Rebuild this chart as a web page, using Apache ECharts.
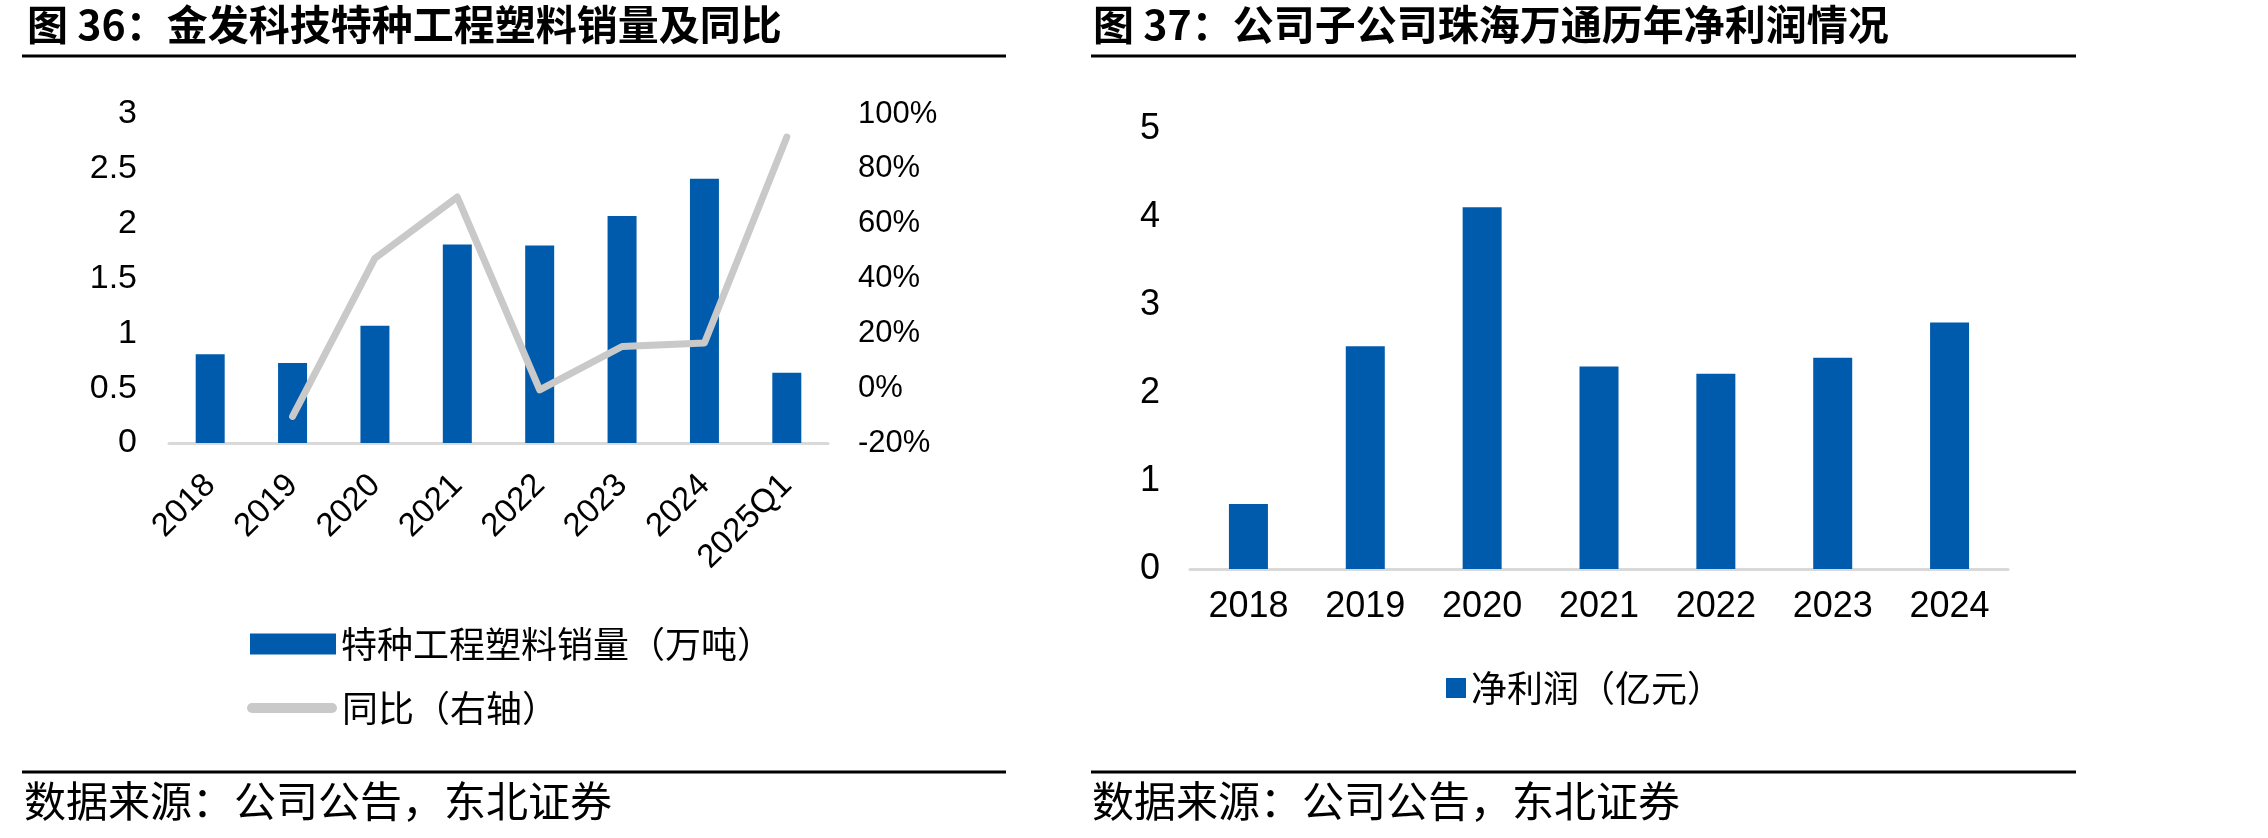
<!DOCTYPE html>
<html>
<head>
<meta charset="utf-8">
<script src="https://cdn.jsdelivr.net/npm/echarts@6/dist/echarts.min.js"></script>
<style>
  html, body { margin: 0; padding: 0; background: #fff; }
  /* 图表容器：和截图窗口同样大小 */
  #chart { width: 2268px; height: 838px; }
</style>
</head>
<body>
<div id="chart"></div>
<script>
// 图36 数据：特种工程塑料销量（万吨）及同比（%）
const salesYears = ['2018', '2019', '2020', '2021', '2022', '2023', '2024', '2025Q1']
const salesVolume = [0.81, 0.73, 1.07, 1.81, 1.80, 2.07, 2.41, 0.64]
const salesYoy = [null, -10.3, 47.4, 69.7, -0.6, 15.2, 16.5, 91.6]

// 图37 数据：珠海万通净利润（亿元）
const profitYears = ['2018', '2019', '2020', '2021', '2022', '2023', '2024']
const netProfit = [0.74, 2.53, 4.11, 2.30, 2.22, 2.40, 2.80]

const BLUE = '#005BAC'
const GREY = '#C9C9C9'
const NUM_FONT = 'Liberation Sans, Arial, sans-serif'
const CJK_FONT = 'Noto Sans CJK SC, sans-serif'

const chartDom = document.getElementById('chart')
const chartInstance = echarts.init(chartDom, null, { renderer: 'canvas' })

// 标题、来源、图例文字的公共样式
const titleStyle = { fontSize: 41, fontWeight: 'bold', fontFamily: CJK_FONT, color: '#000' }
const sourceStyle = { fontSize: 42, fontWeight: 'normal', fontFamily: CJK_FONT, color: '#000' }
const legendText = { fontSize: 36, lineHeight: 36, fontFamily: CJK_FONT, color: '#000' }

const option = {
  backgroundColor: '#fff',
  animation: false,
  title: [
    { text: '图 36：金发科技特种工程塑料销量及同比', left: 27, top: 4, padding: 0, textStyle: titleStyle },
    { text: '图 37：公司子公司珠海万通历年净利润情况', left: 1093, top: 4, padding: 0, textStyle: titleStyle },
    { text: '数据来源：公司公告，东北证券', left: 24, top: 780, padding: 0, textStyle: sourceStyle },
    { text: '数据来源：公司公告，东北证券', left: 1092, top: 780, padding: 0, textStyle: sourceStyle }
  ],
  // 标题下划线和来源上方的横线
  graphic: [
    { type: 'line', shape: { x1: 22, y1: 56, x2: 1006, y2: 56 }, style: { stroke: '#000', lineWidth: 3 } },
    { type: 'line', shape: { x1: 1091, y1: 56, x2: 2076, y2: 56 }, style: { stroke: '#000', lineWidth: 3 } },
    { type: 'line', shape: { x1: 22, y1: 772, x2: 1006, y2: 772 }, style: { stroke: '#000', lineWidth: 3 } },
    { type: 'line', shape: { x1: 1091, y1: 772, x2: 2076, y2: 772 }, style: { stroke: '#000', lineWidth: 3 } }
  ],
  legend: [
    {
      data: [{ name: '特种工程塑料销量（万吨）', icon: 'rect' }],
      left: 250, top: 626, padding: 0,
      itemWidth: 86, itemHeight: 21,
      textStyle: legendText
    },
    {
      data: [{ name: '同比（右轴）', icon: 'path://M5 0H85A5 5 0 0 1 85 10H5A5 5 0 0 1 5 0Z' }],
      left: 247, top: 690, padding: 0,
      itemWidth: 90, itemHeight: 10,
      textStyle: legendText
    },
    {
      data: [{ name: '净利润（亿元）', icon: 'rect' }],
      left: 1446, top: 670, padding: 0,
      itemWidth: 20, itemHeight: 20,
      textStyle: legendText
    }
  ],
  grid: [
    { left: 169, top: 114, width: 659, height: 329 },
    { left: 1190, top: 129, width: 818, height: 440 }
  ],
  xAxis: [
    {
      type: 'category', gridIndex: 0, data: salesYears,
      axisLine: { lineStyle: { color: '#D9D9D9', width: 3 } },
      axisTick: { show: false },
      axisLabel: { rotate: 45, margin: 37, fontSize: 33, fontFamily: NUM_FONT, color: '#000', interval: 0 }
    },
    {
      type: 'category', gridIndex: 1, data: profitYears,
      axisLine: { lineStyle: { color: '#D9D9D9', width: 3 } },
      axisTick: { show: false },
      axisLabel: { margin: 20, fontSize: 36, fontFamily: NUM_FONT, color: '#000', interval: 0 }
    }
  ],
  yAxis: [
    {
      type: 'value', gridIndex: 0, min: 0, max: 3, interval: 0.5,
      axisLine: { show: false }, axisTick: { show: false }, splitLine: { show: false },
      axisLabel: { margin: 32, fontSize: 34, fontFamily: NUM_FONT, color: '#000' }
    },
    {
      type: 'value', gridIndex: 0, min: -20, max: 100, interval: 20, position: 'right',
      axisLine: { show: false }, axisTick: { show: false }, splitLine: { show: false },
      axisLabel: { margin: 30, fontSize: 31, fontFamily: NUM_FONT, color: '#000', formatter: '{value}%' }
    },
    {
      type: 'value', gridIndex: 1, min: 0, max: 5, interval: 1,
      axisLine: { show: false }, axisTick: { show: false }, splitLine: { show: false },
      axisLabel: { margin: 30, fontSize: 36, fontFamily: NUM_FONT, color: '#000' }
    }
  ],
  series: [
    {
      name: '特种工程塑料销量（万吨）', type: 'bar',
      xAxisIndex: 0, yAxisIndex: 0, barWidth: 29,
      itemStyle: { color: BLUE },
      data: salesVolume
    },
    {
      name: '同比（右轴）', type: 'line',
      xAxisIndex: 0, yAxisIndex: 1,
      showSymbol: false, symbol: 'none',
      itemStyle: { color: GREY },
      lineStyle: { color: GREY, width: 7, cap: 'round', join: 'round' },
      data: salesYoy
    },
    {
      name: '净利润（亿元）', type: 'bar',
      xAxisIndex: 1, yAxisIndex: 2, barWidth: 39,
      itemStyle: { color: BLUE },
      data: netProfit
    }
  ]
}

chartInstance.setOption(option)
</script>
</body>
</html>
